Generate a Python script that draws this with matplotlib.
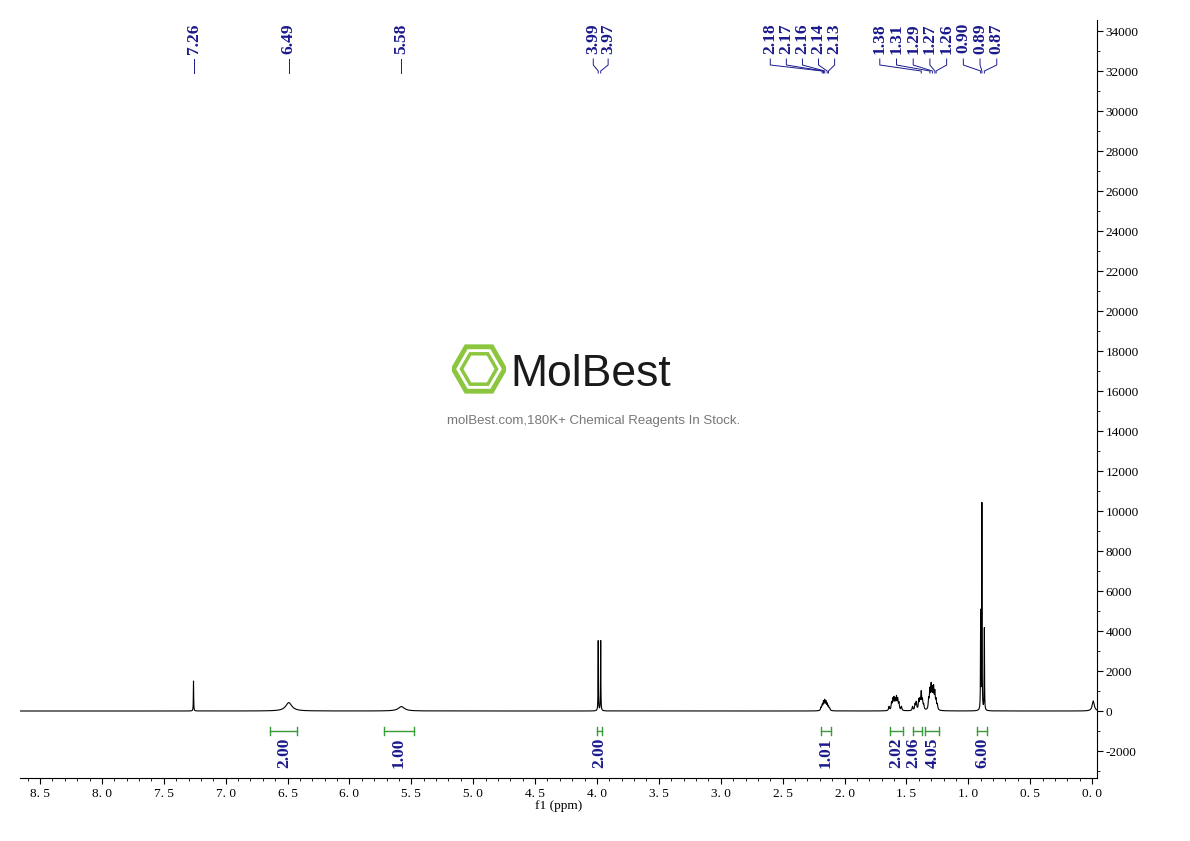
import numpy as np
import matplotlib
matplotlib.use("Agg")
import matplotlib.pyplot as plt
from matplotlib.patches import RegularPolygon

# ---- data ----
peak_ppm = [7.26, 6.49, 5.58, 3.99, 3.97,
            2.19, 2.18, 2.17, 2.16, 2.15, 2.14, 2.13, 2.12,
            1.64, 1.62, 1.61, 1.60, 1.59, 1.58, 1.57, 1.56, 1.54,
            1.45, 1.43, 1.42, 1.40, 1.39, 1.38, 1.37, 1.36,
            1.32, 1.31, 1.30, 1.29, 1.28, 1.27, 1.26, 1.25,
            0.90, 0.89, 0.87, -0.01]
peak_height = [1500, 420, 220, 3500, 3500,
               150, 250, 400, 450, 400, 300, 200, 120,
               200, 350, 500, 550, 450, 600, 500, 350, 200,
               200, 300, 400, 500, 450, 850, 450, 250,
               500, 900, 1100, 900, 1000, 800, 450, 250,
               4900, 10300, 4100, 500]
peak_width = [0.0015, 0.03, 0.03, 0.0015, 0.0015] + [0.004] * 8 + [0.004] * 9 + \
             [0.004] * 8 + [0.004] * 8 + [0.0015, 0.0015, 0.0015, 0.01]

label_values = ["7.26", "6.49", "5.58", "3.99", "3.97",
                "2.18", "2.17", "2.16", "2.14", "2.13",
                "1.38", "1.31", "1.29", "1.27", "1.26",
                "0.90", "0.89", "0.87"]
label_text_ppm = [7.26, 6.49, 5.58, 4.03, 3.91,
                  2.60, 2.47, 2.34, 2.21, 2.08,
                  1.715, 1.58, 1.445, 1.31, 1.175,
                  1.04, 0.905, 0.77]

integral_values = ["2.00", "1.00", "2.00", "1.01", "2.02", "2.06", "4.05", "6.00"]
integral_start = [6.64, 5.72, 4.00, 2.19, 1.63, 1.45, 1.35, 0.93]
integral_end = [6.42, 5.48, 3.96, 2.11, 1.53, 1.37, 1.24, 0.85]
integral_text_ppm = [6.53, 5.60, 3.98, 2.15, 1.58, 1.445, 1.285, 0.89]

xticks = [8.5, 8.0, 7.5, 7.0, 6.5, 6.0, 5.5, 5.0, 4.5, 4.0, 3.5, 3.0, 2.5, 2.0, 1.5, 1.0, 0.5, 0.0]
yticks = list(range(-2000, 34001, 2000))

# ---- spectrum ----
x = np.linspace(-0.04, 8.662, 30000)
y = np.zeros_like(x)
for p, h, w in zip(peak_ppm, peak_height, peak_width):
    y += h * w**2 / ((x - p)**2 + w**2)

fig = plt.figure(figsize=(11.9, 8.41), dpi=100)
ax = fig.add_axes([20/1190, 1-778/841, 1077/1190, 758/841])
ax.plot(x, y, color="black", lw=0.8)
ax.set_xlim(8.662, -0.04)
ax.set_ylim(-3350, 34550)

for s in ["left", "top"]:
    ax.spines[s].set_visible(False)
ax.yaxis.tick_right()
ax.set_yticks(yticks)
ax.set_yticklabels([str(v) for v in yticks], fontsize=9.5, family="Liberation Serif")
ax.set_xticks(xticks)
ax.set_xticklabels([f"{v:.1f}".replace(".", ". ") for v in xticks], fontsize=9.5, family="Liberation Serif")
ax.set_yticks(list(range(-3000, 34001, 1000)), minor=True)
ax.set_xticks(list(np.arange(0, 8.61, 0.1)), minor=True)
ax.tick_params(axis="y", which="major", length=4, pad=2)
ax.tick_params(axis="y", which="minor", length=2)
ax.tick_params(axis="x", which="major", length=4)
ax.tick_params(axis="x", which="minor", length=2)
ax.set_xlabel("f1 (ppm)", fontsize=9.5, family="Liberation Serif", labelpad=0)

navy = "#1a1a8c"
green = "#3a9a3a"
for txt, tp in zip(label_values, label_text_ppm):
    pp = float(txt)
    ax.text(tp, 34400, txt, rotation=90, ha="center", va="top", color=navy,
            fontsize=12.5, fontweight="bold", family="Liberation Serif", clip_on=False)
    ax.plot([tp, tp, pp, pp], [32600, 32300, 32000, 31900], color=navy, lw=0.7, clip_on=False)

for v, a, b, tp in zip(integral_values, integral_start, integral_end, integral_text_ppm):
    ax.plot([a, b], [-1000, -1000], color=green, lw=1)
    ax.plot([a, a], [-800, -1200], color=green, lw=1)
    ax.plot([b, b], [-800, -1200], color=green, lw=1)
    ax.text(tp, -1350, v, rotation=90, ha="center", va="top", color=navy,
            fontsize=12.5, fontweight="bold", family="Liberation Serif")

# watermark
lax = fig.add_axes([452/1190, 1-396/841, 54/1190, 54/841])
lax.set_xlim(-1, 1); lax.set_ylim(-1, 1); lax.axis("off")
lax.add_patch(RegularPolygon((0, 0), 6, radius=0.95, orientation=np.pi/6, fill=False, ec="#8cc63f", lw=3.5))
lax.add_patch(RegularPolygon((0, 0), 6, radius=0.65, orientation=np.pi/6, fill=False, ec="#8cc63f", lw=2.5))
fig.text(510/1190, 1-374/841, "MolBest", fontsize=32, ha="left", va="center", color="#1a1a1a",
         family="Liberation Sans")
fig.text(594/1190, 1-421/841, "molBest.com,180K+ Chemical Reagents In Stock.", fontsize=9.5,
         ha="center", va="center", color="#777777", family="Liberation Sans")

fig.savefig("out.png", dpi=100)
